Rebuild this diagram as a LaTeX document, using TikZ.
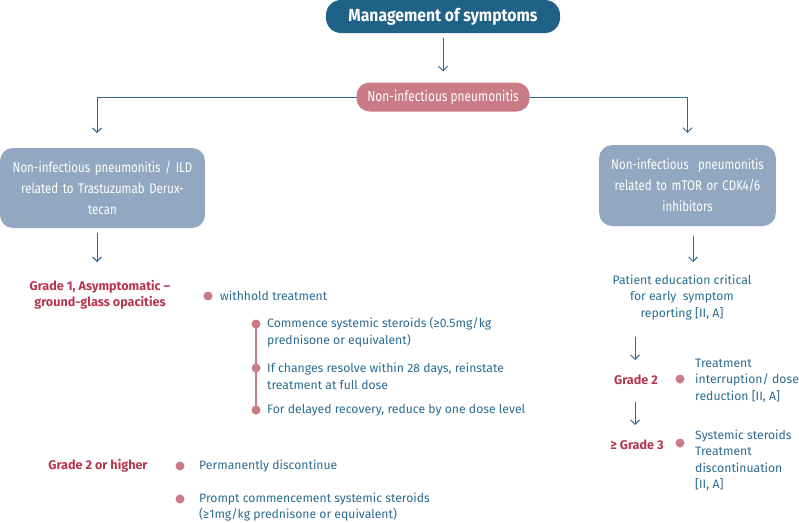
\documentclass[tikz,border=0pt]{standalone}
\usepackage{fontspec}
\setmainfont{Fira Sans}
\newfontfamily\condfont[FakeStretch=0.82]{Fira Sans}
\newfontfamily\headfont[FakeStretch=0.9]{Fira Sans}
\usetikzlibrary{arrows.meta}
\definecolor{headblue}{HTML}{1F6187}
\definecolor{nippink}{HTML}{C97B86}
\definecolor{boxblue}{HTML}{91A8C0}
\definecolor{txtblue}{HTML}{2B6A93}
\definecolor{gradered}{HTML}{B5364F}
\definecolor{dotpink}{HTML}{C97C86}
\definecolor{arrowblue}{HTML}{2D6790}
\tikzset{
  headbox/.style={rounded corners=15pt, fill=headblue, text=white, minimum width=234pt, minimum height=33pt, font=\headfont\bfseries\fontsize{17.5}{20}\selectfont},
  nipbox/.style={rounded corners=13pt, fill=nippink, text=white, minimum width=173pt, minimum height=29pt, font=\condfont\fontsize{14.5}{17}\selectfont},
  medbox/.style={rounded corners=13pt, fill=boxblue, text=white, align=center, font=\condfont\fontsize{14}{21}\selectfont},
  info/.style={anchor=west, align=left, inner sep=0pt, text=txtblue, font=\fontsize{12.2}{16.5}\selectfont},
  grade/.style={align=center, inner sep=0pt, text=gradered, font=\bfseries\fontsize{12.6}{16}\selectfont},
  dot/.style={circle, fill=dotpink, inner sep=0pt, minimum size=9pt},
  flow/.style={->, draw=arrowblue, line width=0.9pt}
}
\begin{document}
\begin{tikzpicture}[x=1pt, y=-1pt, >={Straight Barb[length=4.5pt, width=9pt]}, line cap=round]
  \useasboundingbox (0,0) rectangle (799,522);
  % top of the chart
  \node[headbox] (mgmt) at (443,16.5) {Management of symptoms};
  \node[nipbox] (nip) at (443,97) {Non-infectious pneumonitis};
  \draw[flow, shorten <=5pt, shorten >=11pt] (mgmt) -- (nip);
  % the two branches
  \node[medbox, minimum width=205pt, minimum height=80pt, text width=195pt] (ild) at (102.5,188) {Non-infectious pneumonitis / ILD\\related to Trastuzumab Derux-\\tecan};
  \node[medbox, minimum width=175pt, minimum height=81pt, text width=170pt] (mtor) at (687.5,185.5) {Non-infectious~ pneumonitis\\related to mTOR or CDK4/6\\inhibitors};
  \coordinate (lsplit) at (97,97);
  \coordinate (ltip) at (97,133);
  \draw[flow] (nip.west) -- (lsplit) -- (ltip);
  \draw[flow, shorten >=12pt] (nip.east) -| (mtor);
  % left branch
  \coordinate (ildout) at (97,233);
  \coordinate (ildtip) at (97,262);
  \draw[flow] (ildout) -- (ildtip);
  \node[grade] (g1) at (100,295) {Grade 1, Asymptomatic --\\ground-glass opacities};
  \node[dot] (d0) at (208,296) {};
  \node[info] (t0) at (220,296) {withhold treatment};
  \node[dot] (d1) at (256,324) {};
  \node[dot] (d2) at (256,368) {};
  \node[dot] (d3) at (256,410) {};
  \draw[dotpink, line width=2pt] (d1) -- (d2) -- (d3);
  \node[info] (t1) at (267,332) {Commence systemic steroids (≥0.5mg/kg\\prednisone or equivalent)};
  \node[info] (t2) at (267,376.5) {If changes resolve within 28 days, reinstate\\treatment at full dose};
  \node[info] (t3) at (267,410) {For delayed recovery, reduce by one dose level};
  \node[grade] (g2l) at (98,466) {Grade 2 or higher};
  \node[dot] (d4) at (180,466) {};
  \node[info] (t4) at (199,466) {Permanently discontinue};
  \node[dot] (d5) at (180,499) {};
  \node[info] (t5) at (199,507) {Prompt commencement systemic steroids\\(≥1mg/kg prednisone or equivalent)};
  % right branch
  \coordinate (mtorout) at (693,236);
  \coordinate (mtortip) at (693,262);
  \draw[flow] (mtorout) -- (mtortip);
  \node[info, anchor=center, align=center] (edu) at (682,297.5) {Patient education critical\\for early~ symptom\\reporting {[II, A]}};
  \coordinate (eduout) at (635,337);
  \coordinate (edutip) at (635,360);
  \draw[flow] (eduout) -- (edutip);
  \node[grade] (g2r) at (636,380) {Grade 2};
  \node[dot] (d6) at (680,379) {};
  \node[info] (t6) at (695,380.5) {Treatment\\interruption/ dose\\reduction {[II, A]}};
  \coordinate (g2out) at (635,402);
  \coordinate (g2tip) at (635,425);
  \draw[flow] (g2out) -- (g2tip);
  \node[grade] (g3r) at (637,445) {≥ Grade 3};
  \node[dot] (d7) at (680,443) {};
  \node[info] (t7) at (695,460) {Systemic steroids\\Treatment\\discontinuation\\{[II, A]}};
\end{tikzpicture}
\end{document}
